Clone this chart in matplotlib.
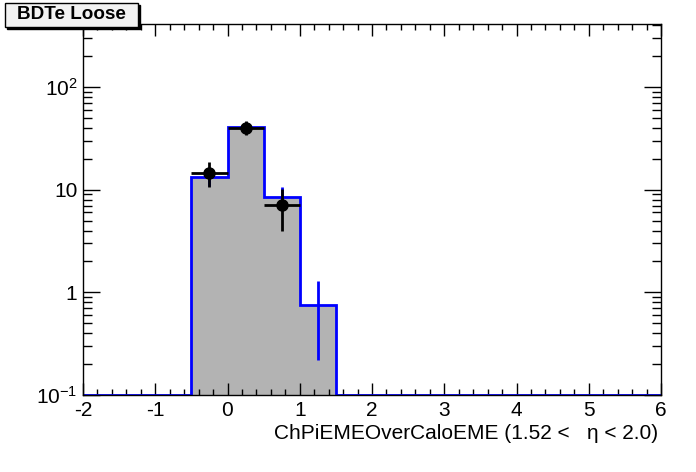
import numpy as np
import matplotlib
matplotlib.use("Agg")
import matplotlib.pyplot as plt
from matplotlib.patches import Rectangle
from matplotlib.ticker import FixedLocator, FixedFormatter, MultipleLocator

plt.rcParams['font.family'] = ['Liberation Sans', 'DejaVu Sans']
plt.rcParams['mathtext.fontset'] = 'custom'
plt.rcParams['mathtext.rm'] = 'Liberation Sans'
plt.rcParams['mathtext.it'] = 'Liberation Sans:italic'
plt.rcParams['axes.unicode_minus'] = False

# ---- data ----
bin_edges = [-2.0, -1.5, -1.0, -0.5, 0.0, 0.5, 1.0, 1.5, 2.0, 2.5, 3.0, 3.5, 4.0, 4.5, 5.0, 5.5, 6.0]
mc_values = [0, 0, 0, 13.3, 41.0, 8.5, 0.75, 0, 0, 0, 0, 0, 0, 0, 0, 0]
mc_errors = [0, 0, 0, 2.5, 4.5, 2.0, 0.53, 0, 0, 0, 0, 0, 0, 0, 0, 0]
data_x = [-0.25, 0.25, 0.75]
data_y = [14.5, 40.0, 7.1]
data_yerr = [4.0, 6.3, 3.1]
data_xerr = [0.25, 0.25, 0.25]
ytick_vals = [0.1, 1, 10, 100]
ytick_labels = [r'$10^{-1}$', '1', '10', r'$10^{2}$']
xlabel = 'ChPiEMEOverCaloEME (1.52 <   \u03b7 < 2.0)'
title = 'BDTe Loose'

ymin, ymax = 0.1, 415

fig = plt.figure(figsize=(6.96, 4.72), dpi=100)
ax = fig.add_axes([83/696, (472-395)/472, (661-83)/696, (395-23.5)/472])

edges = np.array(bin_edges)
vals = np.array(mc_values, dtype=float)
errs = np.array(mc_errors, dtype=float)

# grey fill
ax.stairs(vals, edges, fill=True, color='#b3b3b3', baseline=ymin, zorder=1)
# blue outline (zero bins drawn along bottom)
outline = np.where(vals > 0, vals, ymin)
ax.stairs(outline, edges, color='#0000ff', linewidth=2, baseline=None, zorder=2)
# blue error bars
centers = 0.5 * (edges[:-1] + edges[1:])
mask = vals > 0
ax.errorbar(centers[mask], vals[mask], yerr=errs[mask], fmt='none', ecolor='#0000ff',
            elinewidth=2, capsize=0, zorder=3)

# data points
ax.errorbar(data_x, data_y, xerr=data_xerr, yerr=data_yerr, fmt='o', color='black',
            markersize=8, elinewidth=2, capsize=0, zorder=4)

ax.set_yscale('log')
ax.set_xlim(-2, 6)
ax.set_ylim(ymin, ymax)

ax.xaxis.set_major_locator(MultipleLocator(1))
ax.xaxis.set_minor_locator(MultipleLocator(0.2))
ax.yaxis.set_major_locator(FixedLocator(ytick_vals))
ax.yaxis.set_major_formatter(FixedFormatter(ytick_labels))
minors = [m * 10.0**e for e in range(-1, 3) for m in range(2, 10)]
ax.yaxis.set_minor_locator(FixedLocator(minors))
ax.yaxis.set_minor_formatter(FixedFormatter([''] * len(minors)))

ax.tick_params(axis='x', which='major', direction='in', length=8.6, width=1,
               top=True, bottom=True, labelsize=15, pad=4)
ax.tick_params(axis='x', which='minor', direction='in', length=4.3, width=1, top=True, bottom=True)
ax.tick_params(axis='y', which='major', direction='in', length=12.5, width=1,
               left=True, right=True, labelsize=15, pad=4)
ax.tick_params(axis='y', which='minor', direction='in', length=6.8, width=1, left=True, right=True)
for s in ax.spines.values():
    s.set_linewidth(1)

ax.set_xlabel(xlabel, fontsize=15, ha='right', x=0.995, labelpad=3)

# title box with shadow
bx0, by0, bw, bh = 5/696, 1 - 27/472, 133/696, 24/472
fig.patches.append(Rectangle((bx0 + 2/696, by0 - 2/472), bw, bh, transform=fig.transFigure,
                             facecolor='black', edgecolor='black', zorder=5))
fig.patches.append(Rectangle((bx0, by0), bw, bh, transform=fig.transFigure,
                             facecolor='#f2f2f2', edgecolor='black', linewidth=1, zorder=6))
fig.text(bx0 + bw / 2, by0 + bh / 2, title, ha='center', va='center', fontsize=13.6,
         fontweight='bold', zorder=7)

fig.savefig('out.png', dpi=100)
